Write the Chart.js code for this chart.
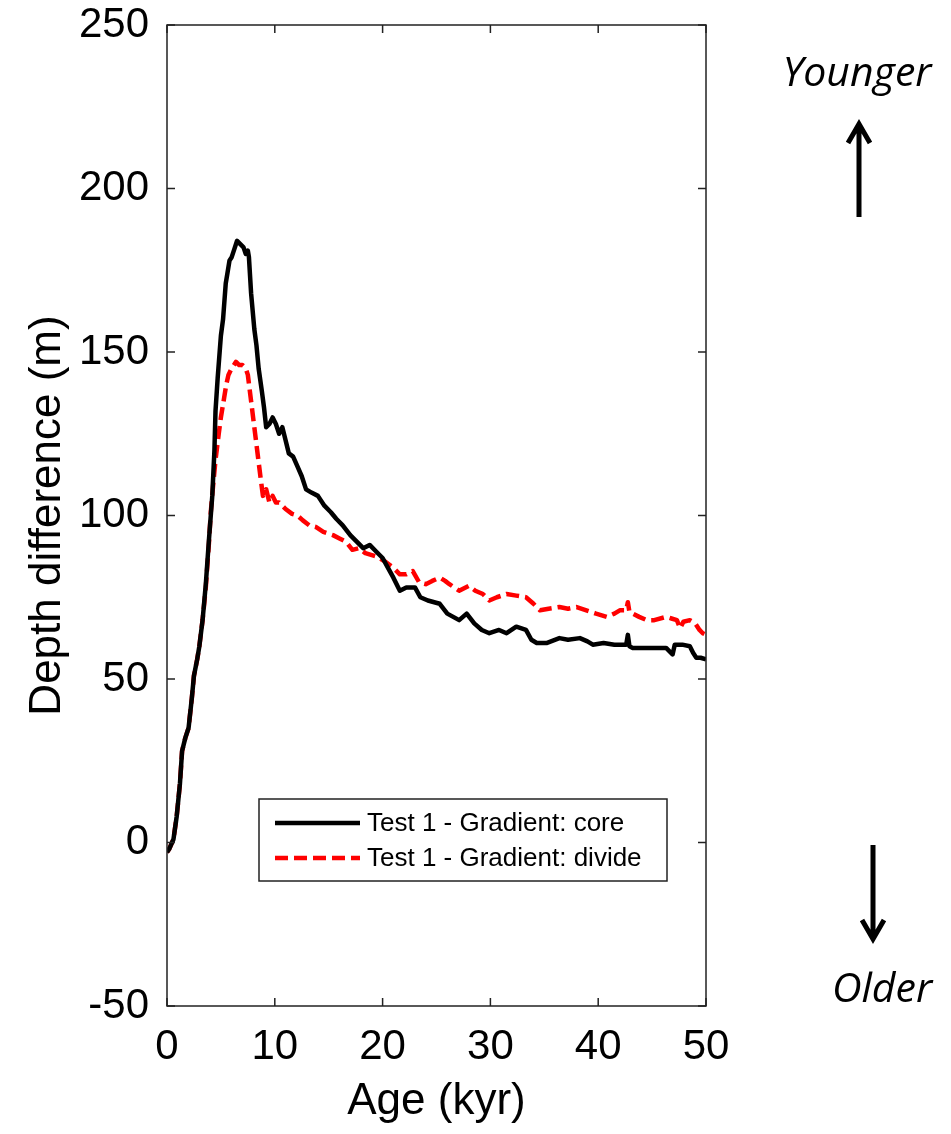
<!DOCTYPE html>
<html>
<head>
<meta charset="utf-8">
<script src="https://cdn.jsdelivr.net/npm/chart.js@4.4.1/dist/chart.umd.min.js"></script>
<style>
  html, body { margin: 0; padding: 0; background: #fff; }
  canvas { display: block; }
</style>
</head>
<body>
<canvas id="depthChart" width="951" height="1134"></canvas>
<script>
// values (age in kyr, depth difference in m)
const coreAge = [0.0, 0.2, 0.6, 0.9, 1.2, 1.4, 1.7, 2.0, 2.3, 2.5, 2.8, 3.0, 3.3, 3.6, 3.9, 4.2, 4.4, 4.5, 4.7, 5.0,
  5.2, 5.45, 5.6, 5.8, 6.0, 6.2, 6.5, 6.8, 7.1, 7.3, 7.5, 7.6, 7.8, 8.1, 8.3, 8.5, 8.8, 9.0, 9.2, 9.5,
  9.8, 10.1, 10.4, 10.7, 11.0, 11.3, 11.7, 12.1, 12.5, 12.9, 13.4, 14.0, 14.6, 15.2, 15.7, 16.3, 17.0, 17.6, 18.2, 18.8,
  19.4, 20.0, 20.5, 21.0, 21.6, 22.2, 23.0, 23.5, 24.2, 25.3, 26.0, 27.1, 27.8, 28.5, 29.2, 29.9, 30.8, 31.5, 32.4, 33.3,
  33.8, 34.3, 35.2, 36.4, 37.2, 38.3, 39.0, 39.5, 40.5, 41.5, 42.6, 42.75, 42.9, 43.2, 44.5, 45.5, 46.3, 46.9, 47.1, 47.8,
  48.5, 48.8, 49.1, 49.5, 50.0];
const coreDepth = [-3, -2, 1, 8, 18, 28, 32, 35, 44, 51, 56, 60, 68, 79, 93, 106, 120, 132, 142, 155,
  160, 171, 174, 178, 179, 181, 184, 183, 182, 180, 181, 179, 168, 157, 152, 145, 138, 133, 127, 128,
  130, 128, 125, 127, 123, 119, 118, 115, 112, 108, 107, 106, 103, 101, 99, 97, 94, 92, 90, 91,
  89, 87, 84, 81, 77, 78, 78, 75, 74, 73, 70, 68, 70, 67, 65, 64, 65, 64, 66, 65,
  62, 61, 61, 62.5, 62, 62.5, 61.5, 60.5, 61, 60.5, 60.5, 63.5, 60, 59.5, 59.5, 59.5, 59.5, 57.5, 60.5, 60.5,
  60, 58, 56.5, 56.5, 56];

const divideAge = [0.0, 0.2, 0.6, 0.9, 1.2, 1.4, 1.7, 2.0, 2.3, 2.5, 2.8, 3.0, 3.3, 3.6, 3.9, 4.06, 4.3, 4.5, 4.8, 5.0,
  5.3, 5.5, 5.7, 6.0, 6.4, 6.7, 7.0, 7.3, 7.5, 7.8, 8.1, 8.4, 8.7, 8.9, 9.2, 9.5, 9.8, 10.1, 10.4, 11.0,
  11.6, 12.1, 12.6, 13.2, 13.8, 14.5, 15.4, 16.0, 16.6, 17.2, 17.8, 18.4, 19.4, 20.2, 21.0, 21.6, 22.2, 22.8, 23.4, 24.0,
  24.6, 25.3, 25.8, 26.2, 27.1, 28.0, 28.6, 29.3, 29.9, 30.6, 31.5, 32.4, 33.3, 34.0, 34.6, 35.4, 36.4, 37.2, 38.0, 38.9,
  39.8, 40.8, 41.5, 42.0, 42.6, 42.75, 42.9, 43.2, 43.8, 44.5, 45.2, 46.3, 46.8, 47.3, 47.6, 47.9, 48.5, 49.0, 49.4, 49.7,
  50.0];
const divideDepth = [-3, -2, 1, 8, 18, 28, 32, 35, 44, 51, 56, 60, 68, 78, 92, 101, 110, 117, 125, 130,
  136, 140, 143, 145, 147, 146, 146, 145, 143, 135, 127, 119, 111, 106, 108, 104, 106, 104, 104, 102,
  100.5, 100, 98.5, 97, 96.5, 95, 94, 93, 92, 89.5, 90, 88.5, 87.5, 86, 84, 82, 82, 83, 79.5, 79,
  80, 81, 80, 79, 77, 78.5, 77, 76, 74, 75, 76, 75.5, 75, 73, 71, 71.5, 72, 71.5, 72, 71,
  70, 69, 70, 71, 71, 73.5, 70.5, 70, 69, 68, 68, 69, 68.5, 68, 65.5, 67.5, 68, 67, 65, 64,
  63.5];

const seriesLabels = ['Test 1 - Gradient: core', 'Test 1 - Gradient: divide'];
const xTickValues = [0, 10, 20, 30, 40, 50];
const yTickValues = [-50, 0, 50, 100, 150, 200, 250];

const FONT = "'Liberation Sans', Arial, Helvetica, sans-serif";
Chart.defaults.font.family = FONT;
Chart.defaults.color = '#000';

const toPoints = (xs, ys) => xs.map((x, i) => ({ x: x, y: ys[i] }));

// MATLAB style box with inward ticks, legend and the Younger / Older notes
const framePlugin = {
  id: 'frame',
  afterDraw(chart) {
    const ctx = chart.ctx;
    const a = chart.chartArea;
    const xs = chart.scales.x, ys = chart.scales.y;
    ctx.save();
    ctx.strokeStyle = '#222';
    ctx.lineWidth = 1.5;
    ctx.strokeRect(a.left, a.top, a.right - a.left, a.bottom - a.top);
    const tl = 8;
    ctx.beginPath();
    xTickValues.forEach(v => {
      const px = xs.getPixelForValue(v);
      ctx.moveTo(px, a.bottom); ctx.lineTo(px, a.bottom - tl);
      ctx.moveTo(px, a.top); ctx.lineTo(px, a.top + tl);
    });
    yTickValues.forEach(v => {
      const py = ys.getPixelForValue(v);
      ctx.moveTo(a.left, py); ctx.lineTo(a.left + tl, py);
      ctx.moveTo(a.right, py); ctx.lineTo(a.right - tl, py);
    });
    ctx.stroke();

    // legend box
    const lx = a.left + 92, ly = a.bottom - 207, lw = 408, lh = 82;
    ctx.fillStyle = '#fff';
    ctx.fillRect(lx, ly, lw, lh);
    ctx.strokeStyle = '#222';
    ctx.lineWidth = 1.5;
    ctx.strokeRect(lx, ly, lw, lh);
    ctx.font = '26px ' + FONT;
    ctx.textBaseline = 'middle';
    chart.data.datasets.forEach((ds, i) => {
      const rowY = ly + 24 + i * 35;
      ctx.strokeStyle = ds.borderColor;
      ctx.lineWidth = ds.borderWidth;
      ctx.setLineDash(ds.borderDash || []);
      ctx.beginPath();
      ctx.moveTo(lx + 16, rowY); ctx.lineTo(lx + 101, rowY);
      ctx.stroke();
      ctx.setLineDash([]);
      ctx.fillStyle = '#000';
      ctx.fillText(ds.label, lx + 108, rowY + 1);
    });

    // annotations on the right
    ctx.fillStyle = '#000';
    ctx.strokeStyle = '#000';
    ctx.font = "italic 41px 'Open Sans', Lato, sans-serif";
    ctx.textAlign = 'center';
    ctx.textBaseline = 'alphabetic';
    ctx.fillText('Younger', 857, 86);
    ctx.fillText('Older', 882, 1002);
    ctx.lineWidth = 5;
    ctx.lineCap = 'butt';
    ctx.beginPath();
    ctx.moveTo(859, 217); ctx.lineTo(859, 125);
    ctx.moveTo(848, 143); ctx.lineTo(859, 124); ctx.lineTo(870, 143);
    ctx.moveTo(873, 845); ctx.lineTo(873, 938);
    ctx.moveTo(862, 920); ctx.lineTo(873, 939); ctx.lineTo(884, 920);
    ctx.stroke();
    ctx.restore();
  }
};

new Chart(document.getElementById('depthChart'), {
  type: 'line',
  data: {
    datasets: [
      {
        label: seriesLabels[0],
        data: toPoints(coreAge, coreDepth),
        borderColor: '#000',
        borderWidth: 4.5,
        borderJoinStyle: 'round',
        pointRadius: 0,
        tension: 0
      },
      {
        label: seriesLabels[1],
        data: toPoints(divideAge, divideDepth),
        borderColor: '#ff0000',
        borderWidth: 4.5,
        borderJoinStyle: 'round',
        borderDash: [13, 6],
        pointRadius: 0,
        tension: 0
      }
    ]
  },
  options: {
    responsive: false,
    animation: false,
    devicePixelRatio: 1,
    layout: { padding: { top: 25, right: 245, bottom: 0, left: 0 } },
    plugins: { legend: { display: false }, tooltip: { enabled: false } },
    scales: {
      x: {
        type: 'linear',
        min: 0, max: 50,
        afterBuildTicks: s => { s.ticks = xTickValues.map(v => ({ value: v })); },
        afterFit: s => { s.height = 128; s.paddingLeft = 0; s.paddingRight = 0; },
        grid: { display: false, drawTicks: false },
        border: { display: false },
        ticks: { font: { size: 42 }, padding: 16, maxRotation: 0 },
        title: { display: true, text: 'Age (kyr)', font: { size: 44 }, padding: { top: 0, bottom: 6 } }
      },
      y: {
        type: 'linear',
        min: -50, max: 250,
        afterBuildTicks: s => { s.ticks = yTickValues.map(v => ({ value: v })); },
        afterFit: s => { s.width = 167; s.paddingTop = 0; s.paddingBottom = 0; },
        grid: { display: false, drawTicks: false },
        border: { display: false },
        ticks: { font: { size: 42 }, padding: 18 },
        title: { display: true, text: 'Depth difference (m)', font: { size: 44 }, padding: { top: 21, bottom: 0 } }
      }
    }
  },
  plugins: [framePlugin]
});
</script>
</body>
</html>
